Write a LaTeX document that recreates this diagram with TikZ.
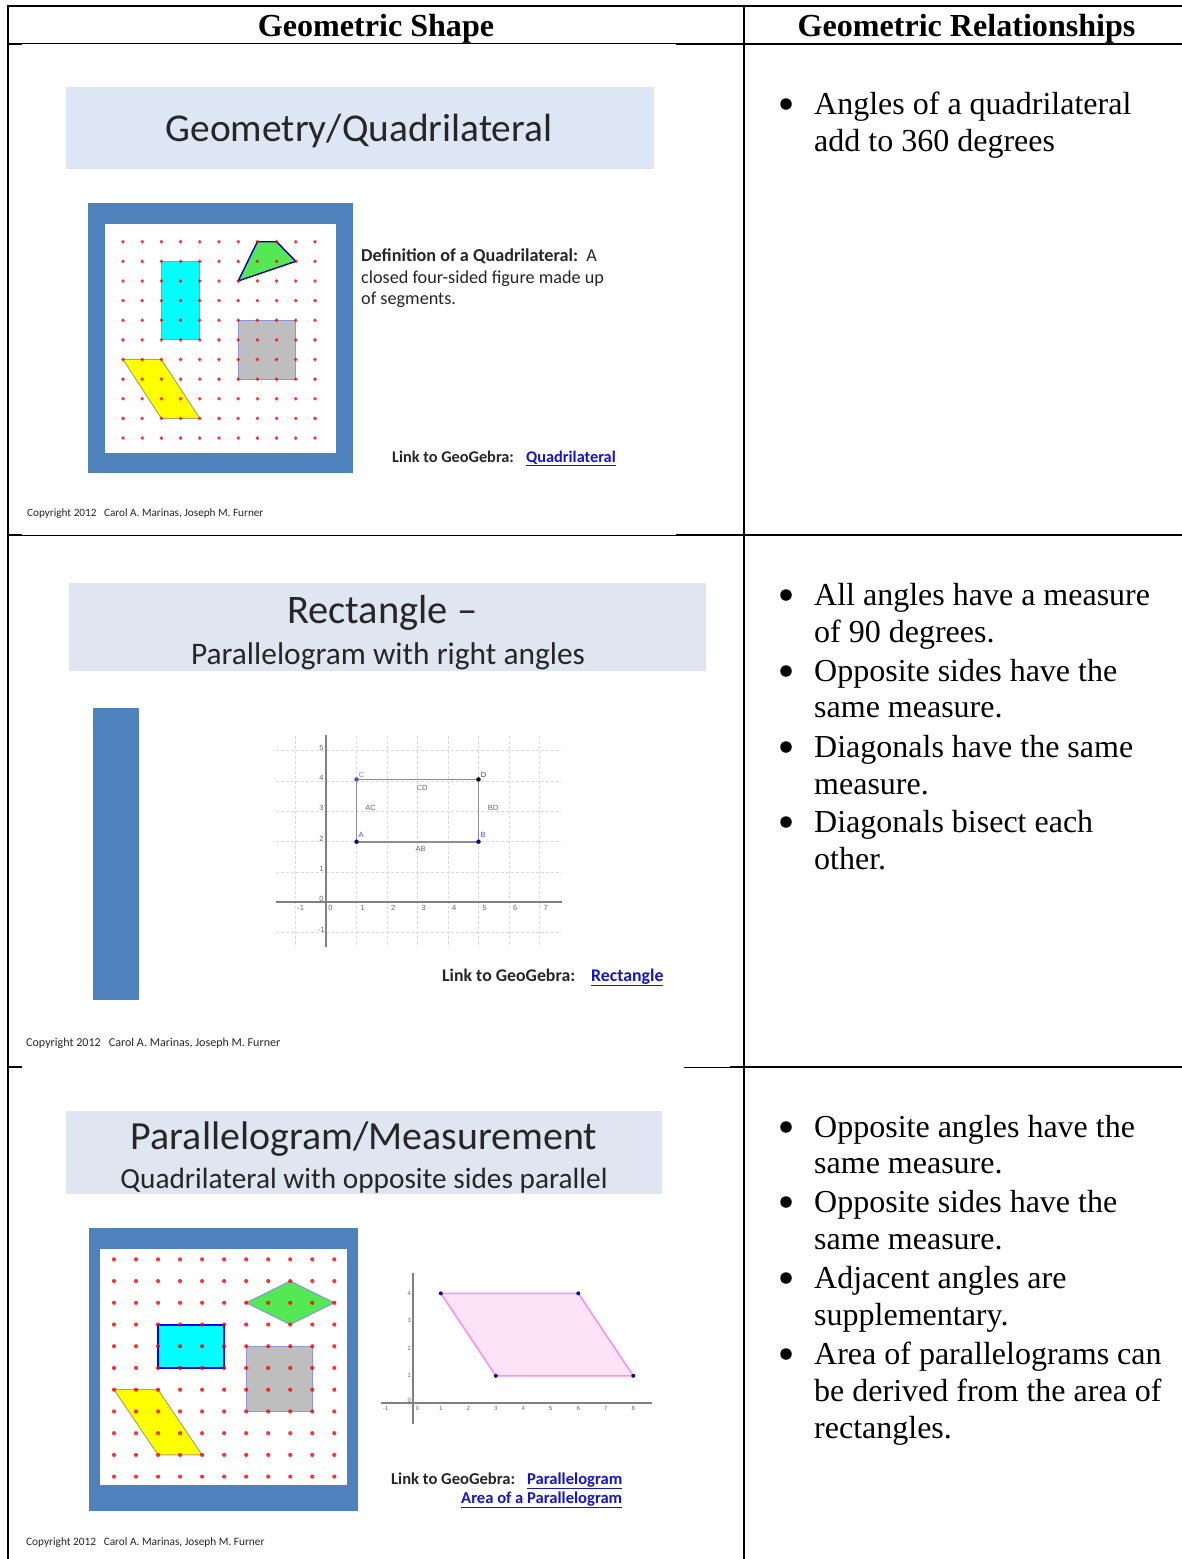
\documentclass[tikz,border=0pt]{standalone}
\usepackage{fontspec}
\setmainfont{Liberation Serif}
\newfontfamily\slidefont{Carlito}
\newfontfamily\gfont{Liberation Sans}
\definecolor{frameblue}{HTML}{4F81BD}
\definecolor{bannerA}{HTML}{DCE6F4}
\definecolor{bannerB}{HTML}{DFE6F1}
\definecolor{linkblue}{HTML}{1414C8}
\definecolor{slidetext}{HTML}{262626}
\definecolor{gridgray}{HTML}{DADADA}
\definecolor{axisgray}{HTML}{808080}
\definecolor{rectgray}{HTML}{8E8E8E}
\definecolor{pinkline}{HTML}{FF90E4}
\definecolor{pinkfill}{HTML}{FCE3F8}
\definecolor{shapegreen}{HTML}{55E855}
\definecolor{shapegray}{HTML}{BEBEBE}
\definecolor{shapecyan}{HTML}{00FFFF}
\definecolor{shapeyellow}{HTML}{FFFF00}
\definecolor{edgeblue}{HTML}{8C96D8}
\definecolor{edgeolive}{HTML}{A8A860}
\definecolor{pointblue}{HTML}{0A0A96}
\definecolor{dotred}{HTML}{FF0000}
\tikzset{
  x=1pt,y=-1pt,
  tline/.style={black,line width=2pt},
  thinline/.style={black,line width=1pt},
  header/.style={font=\fontsize{32.1}{36}\selectfont\bfseries,inner sep=0pt,anchor=base},
  rel/.style={font=\fontsize{32}{36}\selectfont,inner sep=0pt,anchor=base west},
  bul/.style={circle,fill=black,inner sep=0pt,minimum size=11.5pt},
  stext/.style={text=slidetext,inner sep=0pt},
  copyr/.style={text=slidetext,inner sep=0pt,anchor=base west},
  glabel/.style={font=\gfont\fontsize{7.5}{8}\selectfont,text=axisgray!80!black,inner sep=0pt},
  glabelb/.style={font=\gfont\fontsize{6}{7}\selectfont,text=axisgray!80!black,inner sep=0pt},
  gridline/.style={gridgray,line width=.9pt,densely dashed},
  axisline/.style={axisgray,line width=1.7pt},
  geodot/.style={circle,fill=dotred,inner sep=0pt,fill opacity=.8},
}
\newcommand{\lnk}[1]{\textcolor{linkblue}{\underline{#1}}}
\newcommand{\sz}[1]{\slidefont\fontsize{#1}{#1}\selectfont}
\begin{document}
\begin{tikzpicture}
\useasboundingbox (0,0) rectangle (1182,1559);
\fill[white] (0,0) rectangle (1182,1559);

% ---------- slide 1 ----------
\fill[bannerA] (66,87) rectangle (654,169);
\node[stext,font=\sz{39.4},anchor=base] (t1) at (359,141) {Geometry/Quadrilateral};
\fill[frameblue] (88,203) rectangle (353,473);
\fill[white] (105,224) rectangle (336,453);
\begin{scope}[shift={(123,241.7)},x=19.2pt,y=-19.63pt]
  \fill[shapecyan] (2,1) rectangle (4,5);
  \draw[edgeblue,line width=.8pt] (2,1) rectangle (4,5);
  \filldraw[fill=shapeyellow,draw=edgeolive,line width=1pt] (0,6)--(2,6)--(4,9)--(2,9)--cycle;
  \filldraw[fill=shapegreen,draw=blue!70!black,line width=1.4pt] (7,0)--(8,0)--(9,1)--(6,2)--cycle;
  \filldraw[fill=shapegray,draw=edgeblue,line width=1pt] (6,4) rectangle (9,7);
  \foreach \i in {0,...,10}\foreach \j in {0,...,10}
    \node[geodot,minimum size=3.8pt] at (\i,\j) {};
\end{scope}
\node[stext,font=\sz{18.2},anchor=base west] (d1) at (361,261) {\textbf{Definition of a Quadrilateral:}\ \ A};
\node[stext,font=\sz{18.2},anchor=base west] (d2) at (361,283) {closed four-sided figure made up};
\node[stext,font=\sz{18.2},anchor=base west] (d3) at (361,304) {of segments.};
\node[stext,font=\sz{16.3}\bfseries,anchor=base west] (l1) at (392,462) {Link to GeoGebra:};
\node[stext,font=\sz{16.3}\bfseries,anchor=base west] (l1b) at (526,462) {\lnk{Quadrilateral}};
\node[copyr,font=\sz{11.2}] (c1) at (27,516) {Copyright 2012\ \ \ Carol A. Marinas, Joseph M. Furner};

% ---------- slide 2 ----------
\fill[bannerB] (69,583) rectangle (706,671);
\node[stext,font=\sz{40.5},anchor=base west] (t2) at (287,623) {Rectangle –};
\node[stext,font=\sz{31.4},anchor=base] (t2b) at (388,664) {Parallelogram with right angles};
\fill[frameblue] (93,708) rectangle (139,1000);
\begin{scope}[shift={(326,902.3)},x=30.5pt,y=30.3pt]
  \foreach \i in {-1,...,7} \draw[gridline] (\i,5.5) -- (\i,-1.45);
  \foreach \j in {-1,...,5} \draw[gridline] (-1.65,\j) -- (7.7,\j);
  \draw[axisline] (-1.65,0) -- (7.75,0);
  \draw[axisline] (0,5.53) -- (0,-1.48);
  \draw[rectgray,line width=1.8pt] (1,2) rectangle (5,4.055);
  \node[circle,fill=pointblue,inner sep=0pt,minimum size=4.5pt] (pa) at (1,2) {};
  \node[circle,fill=pointblue,inner sep=0pt,minimum size=4.5pt] (pb) at (5,2) {};
  \node[circle,fill=pointblue!70,inner sep=0pt,minimum size=4.5pt] (pc) at (1,4.055) {};
  \node[circle,fill=black,inner sep=0pt,minimum size=4.5pt] (pd) at (5,4.055) {};
  \node[glabel,text=blue!70] at (1.15,2.22) {A};
  \node[glabel,text=blue!70] at (5.15,2.22) {B};
  \node[glabel,text=blue!50] at (1.17,4.22) {C};
  \node[glabel,text=black!70] at (5.17,4.22) {D};
  \node[glabel] at (1.46,3.12) {AC};
  \node[glabel] at (5.48,3.12) {BD};
  \node[glabel] at (3.15,3.76) {CD};
  \node[glabel] at (3.1,1.77) {AB};
  \foreach \i in {1,...,7} \node[glabel] at (\i+.2,-.2) {\i};
  \node[glabel] at (-.83,-.2) {-1};
  \node[glabel] at (.15,-.2) {0};
  \foreach \j in {1,...,5} \node[glabel] at (-.15,\j+.1) {\j};
  \node[glabel] at (-.15,.1) {0};
  \node[glabel] at (-.15,-.9) {-1};
\end{scope}
\node[stext,font=\sz{17.8}\bfseries,anchor=base west] (l2) at (442,981) {Link to GeoGebra:};
\node[stext,font=\sz{17.8}\bfseries,anchor=base west] (l2b) at (591,981) {\lnk{Rectangle}};
\node[copyr,font=\sz{12.05}] (c2) at (26,1046) {Copyright 2012\ \ \ Carol A. Marinas, Joseph M. Furner};

% ---------- slide 3 ----------
\fill[bannerB] (66,1111) rectangle (662,1194);
\node[stext,font=\sz{39.9},anchor=base] (t3) at (364,1149) {Parallelogram/Measurement};
\node[stext,font=\sz{29.3},anchor=base] (t3b) at (364,1188) {Quadrilateral with opposite sides parallel};
\fill[frameblue] (89,1228) rectangle (358,1511);
\fill[white] (100,1249) rectangle (347,1485);
\begin{scope}[shift={(114,1259.3)},x=22.03pt,y=-21.73pt]
  \filldraw[fill=shapegreen,draw=edgeblue,line width=1pt] (6,2)--(8,1)--(10,2)--(8,3)--cycle;
  \filldraw[fill=shapecyan,draw=blue,line width=2pt] (2,3) rectangle (5,5);
  \filldraw[fill=shapegray,draw=edgeblue,line width=1pt] (6,4) rectangle (9,7);
  \filldraw[fill=shapeyellow,draw=edgeolive,line width=1pt] (0,6)--(2,6)--(4,9)--(2,9)--cycle;
  \foreach \i in {0,...,10}\foreach \j in {0,...,10}
    \node[geodot,minimum size=4.2pt] at (\i,\j) {};
\end{scope}
\begin{scope}[shift={(413.3,1403.3)},x=27.5pt,y=27.5pt]
  \filldraw[fill=pinkfill,draw=pinkline,line width=1.6pt] (1,4)--(6,4)--(8,1)--(3,1)--cycle;
  \draw[axisline] (-1.17,0) -- (8.67,0);
  \draw[axisline] (0,4.75) -- (0,-.75);
  \foreach \a/\b in {1/4,6/4,8/1,3/1}
    \node[circle,fill=pointblue,inner sep=0pt,minimum size=4pt] at (\a,\b) {};
  \foreach \i in {1,...,8} \node[glabelb] at (\i,-.2) {\i};
  \node[glabelb] at (-1,-.2) {-1};
  \node[glabelb] at (.15,-.2) {0};
  \foreach \j in {1,...,4} \node[glabelb] at (-.15,\j) {\j};
  \node[glabelb] at (-.15,.12) {0};
\end{scope}
\node[stext,font=\sz{16.6}\bfseries,anchor=base west] (l3) at (391,1484) {Link to GeoGebra:};
\node[stext,font=\sz{16.6}\bfseries,anchor=base west] (l3b) at (527,1484) {\lnk{Parallelogram}};
\node[stext,font=\sz{16.6}\bfseries,anchor=base west] (l3c) at (461,1503) {\lnk{Area of a Parallelogram}};
\node[copyr,font=\sz{11.3}] (c3) at (26,1545) {Copyright 2012\ \ \ Carol A. Marinas, Joseph M. Furner};

% ---------- table rules ----------
\draw[tline] (7,6) -- (1182,6);
\draw[tline] (8,5) -- (8,1559);
\draw[tline] (744,5) -- (744,1559);
\draw[tline] (8,43.7) -- (22,43.7);
\draw[thinline] (22,43.5) -- (676,43.5);
\draw[tline] (676,43.7) -- (1182,43.7);
\draw[tline] (8,534.7) -- (22,534.7);
\draw[thinline] (22,535.2) -- (676,535.2);
\draw[tline] (676,534.7) -- (1182,534.7);
\draw[tline] (8,1067) -- (22,1067);
\draw[thinline] (684,1067.2) -- (730,1067.2);
\draw[tline] (730,1066.5) -- (1182,1066.5);

% ---------- headers ----------
\node[header] (h1) at (376,36) {Geometric Shape};
\node[header] (h2) at (966.5,36) {Geometric Relationships};

% ---------- right column ----------
\node[bul] (b1) at (786,104) {};
\node[rel] (r1a) at (814,114) {Angles of a quadrilateral};
\node[rel] (r1b) at (814,151) {add to 360 degrees};

\node[bul] (b2) at (786,595) {};
\node[rel] (r2a) at (814,605) {All angles have a measure};
\node[rel] (r2b) at (814,642) {of 90 degrees.};
\node[bul] (b3) at (786,671) {};
\node[rel] (r3a) at (814,681) {Opposite sides have the};
\node[rel] (r3b) at (814,717) {same measure.};
\node[bul] (b4) at (786,747) {};
\node[rel] (r4a) at (814,757) {Diagonals have the same};
\node[rel] (r4b) at (814,794) {measure.};
\node[bul] (b5) at (786,822) {};
\node[rel] (r5a) at (814,832) {Diagonals bisect each};
\node[rel] (r5b) at (814,869) {other.};

\node[bul] (b6) at (786,1127) {};
\node[rel] (r6a) at (814,1137) {Opposite angles have the};
\node[rel] (r6b) at (814,1173) {same measure.};
\node[bul] (b7) at (786,1202) {};
\node[rel] (r7a) at (814,1212) {Opposite sides have the};
\node[rel] (r7b) at (814,1249) {same measure.};
\node[bul] (b8) at (786,1278) {};
\node[rel] (r8a) at (814,1288) {Adjacent angles are};
\node[rel] (r8b) at (814,1325) {supplementary.};
\node[bul] (b9) at (786,1354) {};
\node[rel] (r9a) at (814,1364) {Area of parallelograms can};
\node[rel] (r9b) at (814,1401) {be derived from the area of};
\node[rel] (r9c) at (814,1438) {rectangles.};
\end{tikzpicture}
\end{document}
